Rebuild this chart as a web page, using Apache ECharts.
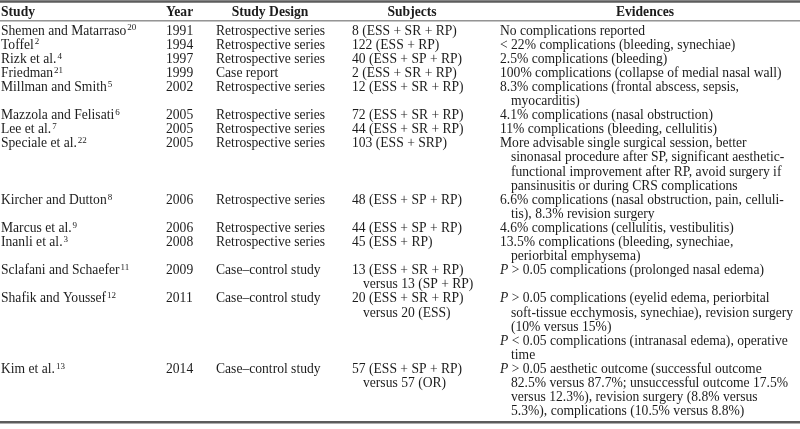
<!DOCTYPE html>
<html><head><meta charset="utf-8">
<script src="https://cdn.jsdelivr.net/npm/echarts@6/dist/echarts.min.js"></script>
<style>html,body{margin:0;padding:0;background:#fff}#c{width:800px;height:429px}</style>
</head><body><div id="c"></div>
<script>
// ---------- table content ----------
const headers = ['Study', 'Year', 'Study Design', 'Subjects', 'Evidences'];
const studies = ['Shemen and Matarraso', 'Toffel', 'Rizk et al.', 'Friedman', 'Millman and Smith',
  'Mazzola and Felisati', 'Lee et al.', 'Speciale et al.', 'Kircher and Dutton', 'Marcus et al.',
  'Inanli et al.', 'Sclafani and Schaefer', 'Shafik and Youssef', 'Kim et al.'];
const refNums = ['20', '2', '4', '21', '5', '6', '7', '22', '8', '9', '3', '11', '12', '13'];
const years = ['1991', '1994', '1997', '1999', '2002', '2005', '2005', '2005', '2006', '2006', '2008', '2009', '2011', '2014'];
const designs = ['Retrospective series', 'Retrospective series', 'Retrospective series', 'Case report',
  'Retrospective series', 'Retrospective series', 'Retrospective series', 'Retrospective series',
  'Retrospective series', 'Retrospective series', 'Retrospective series', 'Case–control study',
  'Case–control study', 'Case–control study'];
const subjects = [
  ['8 (ESS + SR + RP)'], ['122 (ESS + RP)'], ['40 (ESS + SP + RP)'], ['2 (ESS + SR + RP)'],
  ['12 (ESS + SR + RP)'], ['72 (ESS + SR + RP)'], ['44 (ESS + SR + RP)'], ['103 (ESS + SRP)'],
  ['48 (ESS + SP + RP)'], ['44 (ESS + SP + RP)'], ['45 (ESS + RP)'],
  ['13 (ESS + SR + RP)', 'versus 13 (SP + RP)'],
  ['20 (ESS + SR + RP)', 'versus 20 (ESS)'],
  ['57 (ESS + SP + RP)', 'versus 57 (OR)']
];
const evidences = [
  [['No complications reported']],
  [['< 22% complications (bleeding, synechiae)']],
  [['2.5% complications (bleeding)']],
  [['100% complications (collapse of medial nasal wall)']],
  [['8.3% complications (frontal abscess, sepsis,', 'myocarditis)']],
  [['4.1% complications (nasal obstruction)']],
  [['11% complications (bleeding, cellulitis)']],
  [['More advisable single surgical session, better', 'sinonasal procedure after SP, significant aesthetic-',
    'functional improvement after RP, avoid surgery if', 'pansinusitis or during CRS complications']],
  [['6.6% complications (nasal obstruction, pain, celluli-', 'tis), 8.3% revision surgery']],
  [['4.6% complications (cellulitis, vestibulitis)']],
  [['13.5% complications (bleeding, synechiae,', 'periorbital emphysema)']],
  [['P > 0.05 complications (prolonged nasal edema)']],
  [['P > 0.05 complications (eyelid edema, periorbital', 'soft-tissue ecchymosis, synechiae), revision surgery',
    '(10% versus 15%)'], ['P < 0.05 complications (intranasal edema), operative', 'time']],
  [['P > 0.05 aesthetic outcome (successful outcome', '82.5% versus 87.7%; unsuccessful outcome 17.5%',
    'versus 12.3%), revision surgery (8.8% versus', '5.3%), complications (10.5% versus 8.8%)']]
];

// ---------- layout / style ----------
const layout = {
  colX: [1, 166, 216, 352, 500],
  headerAnchor: [[1, 'left'], [166, 'left'], [270, 'center'], [412, 'center'], [645, 'center']],
  indent: 11,
  headerLine: -1.3,
  topRule: -2.1, headRule: -0.72, bottomRule: 27.75,
  yMin: -2.2, yMax: 28.23, xMax: 800,
  family: '"Liberation Serif", "Times New Roman", serif', size: 13.6,
  color: '#1c1c1c', ruleColor: '#5c5c5c'
};

// ---------- build items ----------
const items = [];
headers.forEach((h, i) => items.push({ kind: 'text', x: layout.headerAnchor[i][0], y: layout.headerLine, text: h, align: layout.headerAnchor[i][1], bold: true }));
let line = 0;
for (let r = 0; r < studies.length; r++) {
  items.push({ kind: 'text', x: layout.colX[0], y: line, text: studies[r], sup: refNums[r] });
  items.push({ kind: 'text', x: layout.colX[1], y: line, text: years[r] });
  items.push({ kind: 'text', x: layout.colX[2], y: line, text: designs[r] });
  subjects[r].forEach((s, k) => items.push({ kind: 'text', x: layout.colX[3] + (k ? layout.indent : 0), y: line + k, text: s }));
  let k = 0;
  evidences[r].forEach(par => par.forEach((s, j) => {
    items.push({ kind: 'text', x: layout.colX[4] + (j ? layout.indent : 0), y: line + k, text: s });
    k++;
  }));
  line += Math.max(subjects[r].length, k, 1);
}
items.push({ kind: 'rule', x: 0, y: layout.topRule, w: 2.5 });
items.push({ kind: 'rule', x: 0, y: layout.headRule, w: 1 });
items.push({ kind: 'rule', x: 0, y: layout.bottomRule, w: 2.5 });

const rich = {
  m: { fontFamily: layout.family, fontSize: layout.size, fill: layout.color, color: layout.color, lineHeight: 15 },
  i: { fontFamily: layout.family, fontSize: layout.size, fontStyle: 'italic', fill: layout.color, color: layout.color, lineHeight: 15 },
  s: { fontFamily: layout.family, fontSize: 9, fill: layout.color, color: layout.color, verticalAlign: 'top', lineHeight: 9, padding: [0, 0, 0, 1] }
};

function renderItem(params, api) {
  const it = items[params.dataIndex];
  const p = api.coord([api.value(0), api.value(1)]);
  if (it.kind === 'rule') {
    const p2 = api.coord([layout.xMax, api.value(1)]);
    return { type: 'line', shape: { x1: p[0], y1: p[1], x2: p2[0], y2: p2[1] }, style: { stroke: layout.ruleColor, lineWidth: it.w } };
  }
  let text = it.text;
  let useRich = false;
  if (it.sup) { text = '{m|' + it.text + '}{s|' + it.sup + '}'; useRich = true; }
  else if (/^P [<>]/.test(it.text)) { text = '{i|P}{m|' + it.text.slice(1) + '}'; useRich = true; }
  const style = {
    text: text, x: p[0], y: p[1],
    fill: layout.color,
    font: (it.bold ? 'bold ' : '') + layout.size + 'px ' + layout.family,
    align: it.align || 'left', verticalAlign: 'middle'
  };
  if (useRich) style.rich = rich;
  return { type: 'text', style: style };
}

const chart = echarts.init(document.getElementById('c'), null, { renderer: 'canvas' });
chart.setOption({
  animation: false,
  backgroundColor: '#ffffff',
  grid: { left: 0, right: 0, top: 0, bottom: 0 },
  xAxis: { type: 'value', min: 0, max: layout.xMax, show: false },
  yAxis: { type: 'value', inverse: true, min: layout.yMin, max: layout.yMax, show: false },
  series: [{
    type: 'custom',
    renderItem: renderItem,
    data: items.map(it => [it.x, it.y]),
    clip: false
  }]
});
</script>
</body></html>
